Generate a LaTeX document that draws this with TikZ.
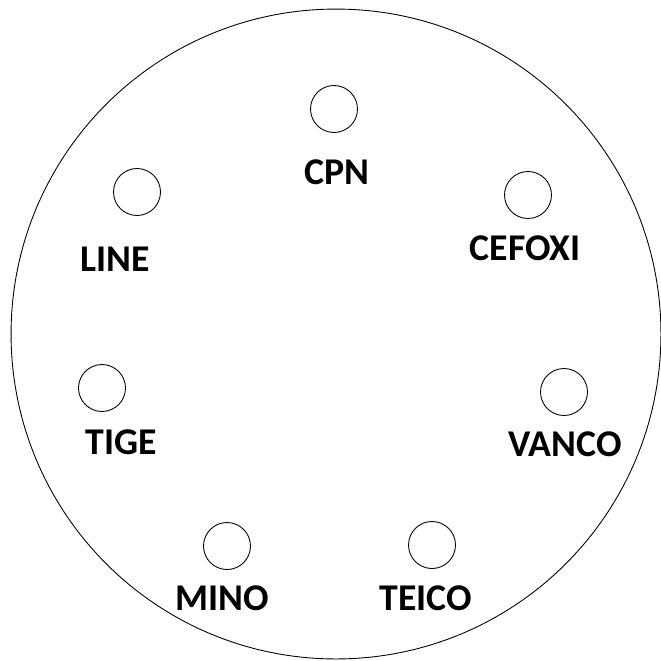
\documentclass[tikz,border=0pt]{standalone}
\usepackage{fontspec}
\setmainfont{Carlito}

\begin{document}
\begin{tikzpicture}[x=0.02cm,y=-0.02cm,
    well/.style={draw, circle, minimum size=0.94cm, inner sep=0pt, line width=0.5pt},
    drug/.style={font=\bfseries\fontsize{21.5}{25}\selectfont, inner sep=0pt}]
    \useasboundingbox (0,0) rectangle (661,660);
    % draw plate
    \draw[line width=0.5pt] (336,334) circle[radius=6.5cm];
    % draw wells
    \node[well] (cpn) at (334,109) {};
    \node[well] (line) at (137,192) {};
    \node[well] (cefoxi) at (528,195) {};
    \node[well] (tige) at (102,388) {};
    \node[well] (vanco) at (564,392) {};
    \node[well] (mino) at (227,546) {};
    \node[well] (teico) at (432,545) {};
    % draw labels
    \node[drug] (cpnlbl) at (337,172) {CPN};
    \node[drug] (linelbl) at (115,259) {LINE};
    \node[drug] (cefoxilbl) at (525,248) {CEFOXI};
    \node[drug] (tigelbl) at (121,442) {TIGE};
    \node[drug] (vancolbl) at (565,444) {VANCO};
    \node[drug] (minolbl) at (222,598) {MINO};
    \node[drug] (teicolbl) at (426,598) {TEICO};
\end{tikzpicture}
\end{document}
